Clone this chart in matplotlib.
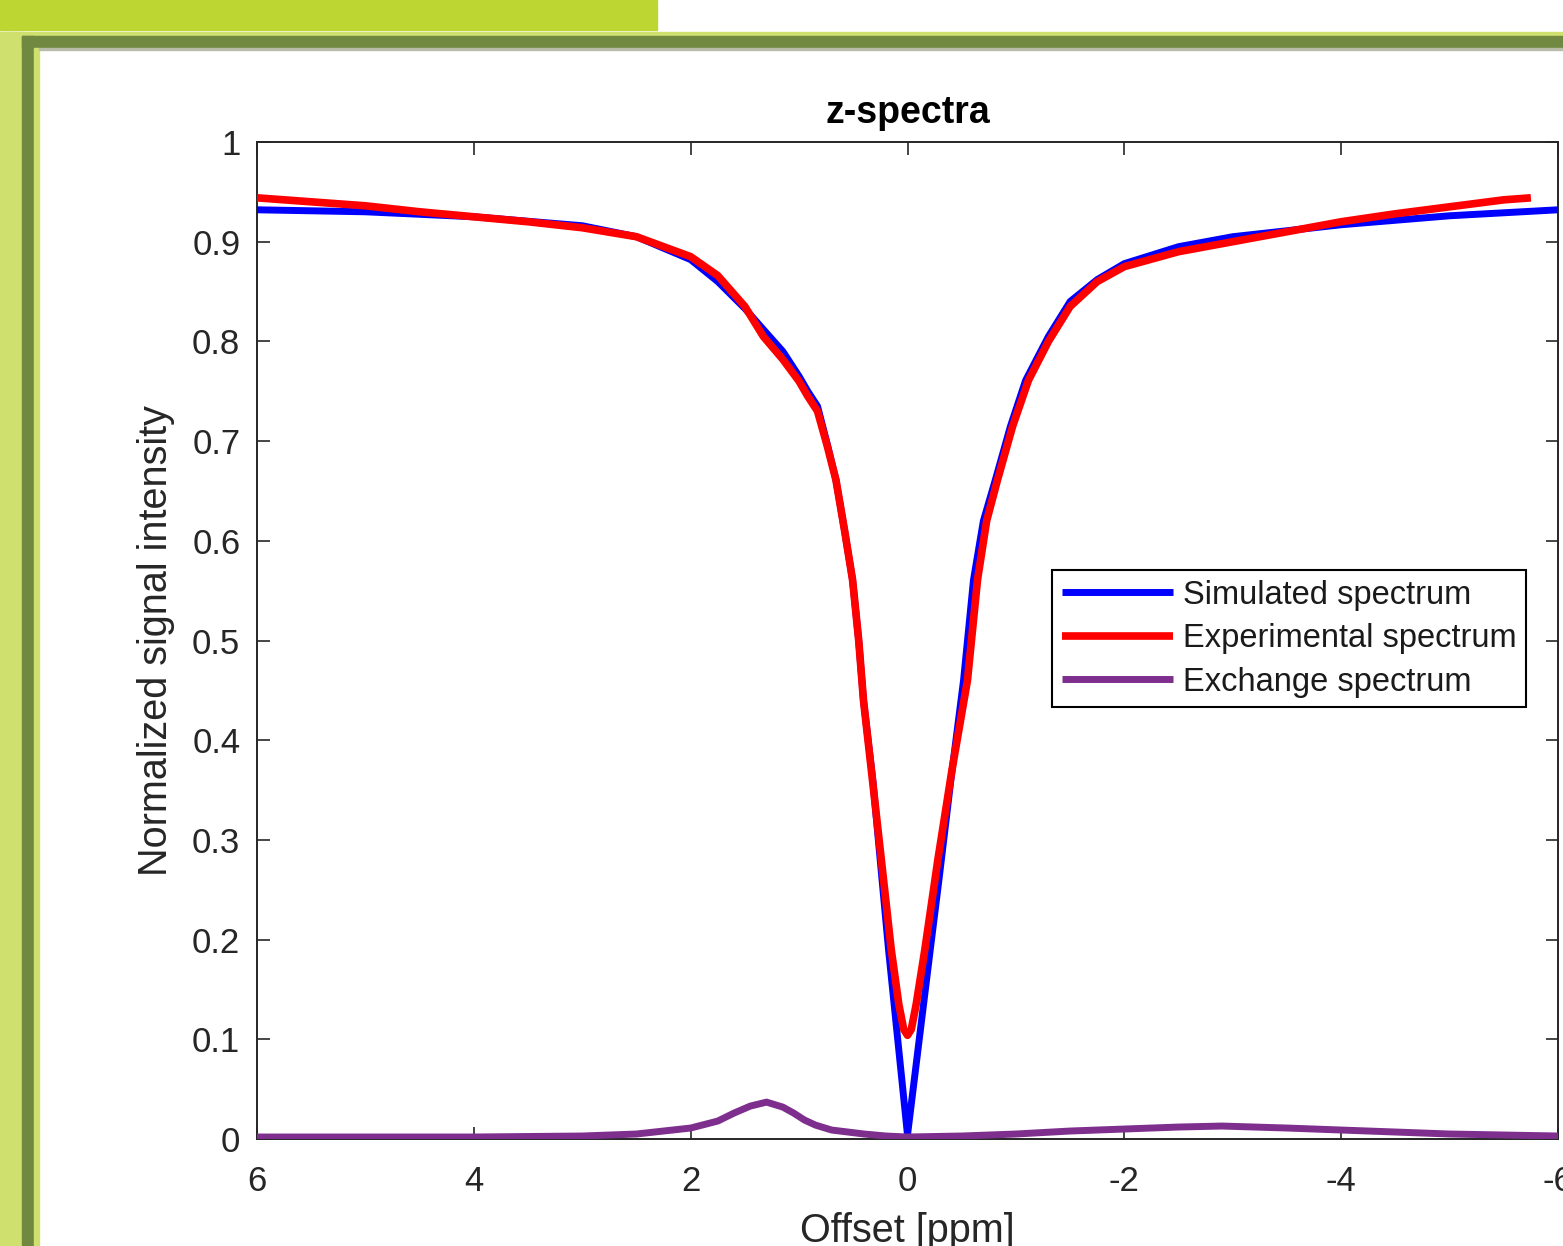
import numpy as np
import matplotlib
matplotlib.use('Agg')
import matplotlib.pyplot as plt
from matplotlib.patches import Rectangle

plt.rcParams['font.family'] = ['Liberation Sans', 'DejaVu Sans']

# simulated spectrum (blue)
sim_x = [6, 5, 4, 3, 2.5, 2.0, 1.75, 1.5, 1.33, 1.15, 1.0, 0.92, 0.83, 0.74, 0.66, 0.58,
         0.507, 0.45, 0.406, 0.32, 0.175, 0, -0.21, -0.29, -0.40, -0.517, -0.609, -0.70,
         -0.81, -0.95, -1.09, -1.3, -1.5, -1.75, -2, -2.5, -3, -4, -5, -6]
sim_y = [0.932, 0.930, 0.925, 0.916, 0.905, 0.882, 0.860, 0.833, 0.812, 0.790, 0.765,
         0.750, 0.735, 0.697, 0.661, 0.61, 0.561, 0.50, 0.44, 0.36, 0.19, 0.004, 0.19,
         0.26, 0.36, 0.46, 0.561, 0.62, 0.661, 0.715, 0.761, 0.805, 0.84, 0.862, 0.878,
         0.895, 0.905, 0.917, 0.926, 0.932]

# experimental spectrum (red)
exp_x = [6, 5.5, 5, 4.5, 4, 3.5, 3, 2.5, 2.25, 2.0, 1.75, 1.5, 1.33, 1.15, 1.0, 0.92,
         0.83, 0.74, 0.66, 0.58, 0.507, 0.45, 0.406, 0.323, 0.221, 0.15, 0.08, 0.035, 0,
         -0.035, -0.08, -0.16, -0.28, -0.41, -0.553, -0.646, -0.73, -0.83, -0.97,
         -1.116, -1.3, -1.5, -1.75, -2, -2.5, -3, -3.5, -4, -4.5, -5, -5.5, -5.75]
exp_y = [0.944, 0.940, 0.936, 0.930, 0.925, 0.920, 0.914, 0.905, 0.895, 0.885, 0.866,
         0.835, 0.805, 0.782, 0.760, 0.745, 0.730, 0.695, 0.661, 0.61, 0.561, 0.50, 0.44,
         0.36, 0.26, 0.19, 0.135, 0.11, 0.104, 0.11, 0.135, 0.19, 0.28, 0.37, 0.46,
         0.561, 0.62, 0.661, 0.715, 0.761, 0.80, 0.835, 0.86, 0.875, 0.89, 0.90, 0.91,
         0.92, 0.928, 0.935, 0.942, 0.944]

# exchange spectrum (purple)
exc_x = [6, 4, 3, 2.5, 2, 1.75, 1.6, 1.45, 1.3, 1.15, 1.05, 0.95, 0.85, 0.7, 0.4, 0.2, 0,
         -0.5, -1, -1.5, -2, -2.5, -2.9, -3.5, -4, -4.5, -5, -6]
exc_y = [0.002, 0.002, 0.003, 0.005, 0.011, 0.018, 0.026, 0.033, 0.037, 0.032, 0.026,
         0.019, 0.014, 0.009, 0.005, 0.003, 0.002, 0.003, 0.005, 0.008, 0.010, 0.012,
         0.013, 0.011, 0.009, 0.007, 0.005, 0.003]

xticks = [6, 4, 2, 0, -2, -4, -6]
yticks = [0, 0.1, 0.2, 0.3, 0.4, 0.5, 0.6, 0.7, 0.8, 0.9, 1]
ytick_labels = ['0', '0.1', '0.2', '0.3', '0.4', '0.5', '0.6', '0.7', '0.8', '0.9', '1']

W, H = 1563, 1246
fig = plt.figure(figsize=(W / 100, H / 100), dpi=100)

# slide decoration around the chart
def band(x0, y0, x1, y1, color):
    fig.patches.append(Rectangle((x0 / W, 1 - y1 / H), (x1 - x0) / W, (y1 - y0) / H,
                                 transform=fig.transFigure, color=color, zorder=0))

band(0, 0, 657, 30, '#BED631')
band(0, 32, W, 36, '#D0E06E')
band(0, 32, 22, H, '#D0E06E')
band(22, 36, W, 48, '#718840')
band(22, 36, 34, H, '#718840')
band(34, 48, 39, H, '#D0E06E')
band(39, 48, W, 49.5, '#B8BCA8')

grey = '#262626'
ax = fig.add_axes([257 / W, 1 - 1139 / H, 1301 / W, 997 / H])
style = dict(solid_joinstyle='round', solid_capstyle='butt')
ax.plot(sim_x, sim_y, color='#0000FF', lw=5, label='Simulated spectrum', zorder=3, **style)
ax.plot(exp_x, exp_y, color='#FF0000', lw=5.5, label='Experimental spectrum', zorder=4, **style)
ax.plot(exc_x, exc_y, color='#7E2F8E', lw=5, label='Exchange spectrum', zorder=5, **style)

ax.set_xlim(6, -6)
ax.set_ylim(0, 1)
ax.set_xticks(xticks)
ax.set_xticklabels([str(t) for t in xticks])
ax.set_yticks(yticks)
ax.set_yticklabels(ytick_labels)
ax.tick_params(direction='in', length=9, width=1.2, colors=grey, labelsize=25,
               top=True, right=True)
ax.tick_params(axis='x', pad=19)
ax.tick_params(axis='y', pad=12)
for s in ax.spines.values():
    s.set_color(grey)
    s.set_linewidth(1.4)

ax.set_title('z-spectra', fontsize=27, fontweight='bold', pad=14, color='black')
ax.set_ylabel('Normalized signal intensity', fontsize=28.5, color=grey, labelpad=12)
ax.set_xlabel('Offset [ppm]', fontsize=28.5, color=grey, labelpad=10)

leg = ax.legend(loc='upper left', bbox_to_anchor=(1052 / W, 1 - 570 / H),
                bbox_transform=fig.transFigure, fontsize=23.5, frameon=True,
                fancybox=False, framealpha=1, edgecolor='black', borderpad=0.3,
                handlelength=3.4, handletextpad=0.3, labelspacing=0.38, borderaxespad=0)
leg.get_frame().set_linewidth(1.5)
for t in leg.get_texts():
    t.set_color('#1a1a1a')

fig.savefig('out.png', dpi=100)
